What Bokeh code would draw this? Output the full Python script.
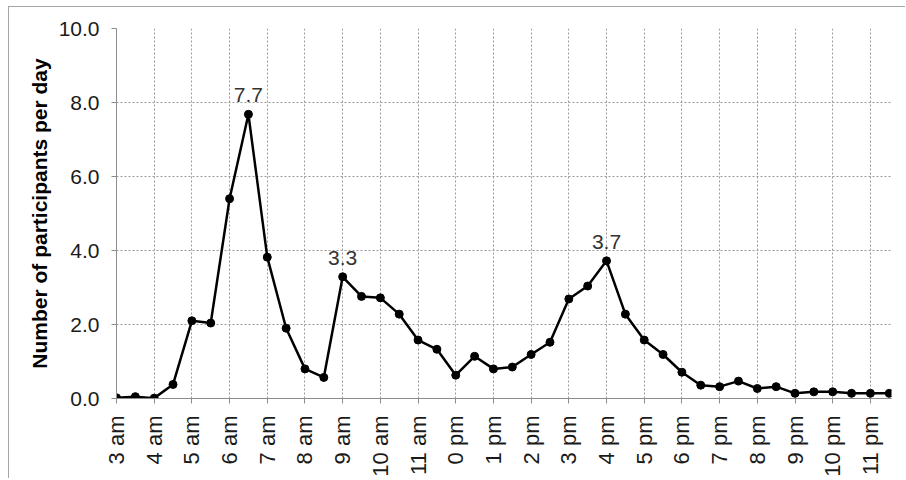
import math
from bokeh.plotting import figure
from bokeh.models import FixedTicker, ColumnDataSource
from bokeh.core.properties import value
from bokeh.embed import file_html
from bokeh.resources import INLINE

# Data: half-hour slots from 3:00 to 23:30
hours = [3.0 + 0.5 * i for i in range(42)]
participants = [
    0.02, 0.05, 0.01, 0.38, 2.10, 2.04, 5.40, 7.68, 3.82, 1.90, 0.80, 0.57,
    3.29, 2.76, 2.72, 2.28, 1.58, 1.33, 0.63, 1.14, 0.80, 0.85, 1.19, 1.52,
    2.69, 3.04, 3.72, 2.28, 1.58, 1.19, 0.71, 0.36, 0.32, 0.47, 0.27, 0.32,
    0.14, 0.18, 0.18, 0.14, 0.14, 0.14,
]
x_ticks = list(range(3, 24))
x_tick_labels = ["3 am", "4 am", "5 am", "6 am", "7 am", "8 am", "9 am", "10 am", "11 am",
                 "0 pm", "1 pm", "2 pm", "3 pm", "4 pm", "5 pm", "6 pm", "7 pm", "8 pm",
                 "9 pm", "10 pm", "11 pm"]
y_ticks = [0, 2, 4, 6, 8, 10]
y_tick_labels = ["0.0", "2.0", "4.0", "6.0", "8.0", "10.0"]
peak_x = [6.5, 9.0, 16.0]
peak_labels = ["7.7", "3.3", "3.7"]

peak_y = [participants[hours.index(h)] for h in peak_x]

FONT = "Liberation Sans"

p = figure(width=897, height=472, output_backend="svg", toolbar_location=None,
           x_range=(3, 23.56), y_range=(0, 10),
           min_border_left=107, min_border_right=15, min_border_top=21, min_border_bottom=80)
p.outline_line_color = None
p.background_fill_color = "white"
p.border_fill_color = "white"
p.styles = {"border-top": "1px solid #a6a6a6", "border-left": "1px solid #a6a6a6",
            "margin-top": "6px", "margin-left": "8px"}

# grid
for g in (p.xgrid, p.ygrid):
    g.grid_line_color = "#9a9a9a"
    g.grid_line_dash = "2 2"
    g.grid_line_width = 1
p.xgrid.ticker = FixedTicker(ticks=x_ticks)
p.ygrid.ticker = FixedTicker(ticks=y_ticks)

# axes
p.xaxis.ticker = FixedTicker(ticks=x_ticks)
p.xaxis.major_label_overrides = {t: l for t, l in zip(x_ticks, x_tick_labels)}
p.xaxis.major_label_orientation = math.pi / 2
p.yaxis.ticker = FixedTicker(ticks=y_ticks)
p.yaxis.major_label_overrides = {t: l for t, l in zip(y_ticks, y_tick_labels)}
for ax in (p.xaxis[0], p.yaxis[0]):
    ax.axis_line_color = "#8c8c8c"
    ax.major_tick_line_color = "#8c8c8c"
    ax.major_tick_out = 5
    ax.major_tick_in = 0
    ax.minor_tick_line_color = None
    ax.major_label_text_font = FONT
    ax.major_label_text_color = "#1a1a1a"
p.xaxis.major_label_text_font_size = "22px"
p.yaxis.major_label_text_font_size = "21px"
p.xaxis.major_label_standoff = 12
p.yaxis.major_label_standoff = 12
p.yaxis.axis_label = "Number of participants per day"
p.yaxis.axis_label_text_font = FONT
p.yaxis.axis_label_text_font_style = "bold"
p.yaxis.axis_label_text_font_size = "21px"
p.yaxis.axis_label_text_color = "#000000"
p.yaxis.axis_label_standoff = 5

src = ColumnDataSource(dict(x=hours, y=participants))
p.line("x", "y", source=src, line_color="black", line_width=2.5)
p.scatter("x", "y", source=src, size=8, fill_color="black", line_color="black")

p.text(x=peak_x, y=peak_y, text=peak_labels, text_align="center", text_baseline="bottom",
       y_offset=-12, text_font=value(FONT), text_font_size="21px", text_color="#333333")

open("out.html", "w").write(file_html(p, INLINE))
